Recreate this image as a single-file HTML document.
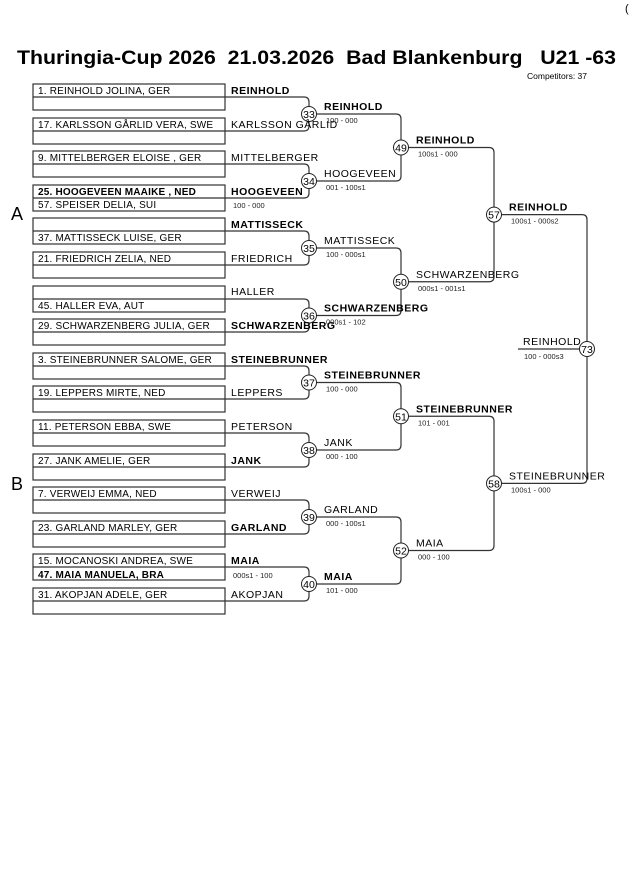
<!DOCTYPE html>
<html><head><meta charset="utf-8"><style>
body{margin:0;background:#fff;width:630px;height:891px;overflow:hidden}
svg{display:block}
text{font-family:"Liberation Sans",Arial,sans-serif;fill:#000}
.n{font-size:10px;letter-spacing:0.2px}
.nb{font-size:10px;font-weight:bold;letter-spacing:0.2px}
.l{font-size:10.5px;letter-spacing:0.5px}
.lb{font-size:10.5px;font-weight:bold;letter-spacing:0.5px}
.s{font-size:7.5px;fill:#222}
.c{font-size:10.5px;text-anchor:middle}
</style></head><body>
<svg width="630" height="891" viewBox="0 0 630 891" xmlns="http://www.w3.org/2000/svg">
<text x="625" y="12" style="font-size:11px">(</text>
<text x="17" y="64" textLength="599" lengthAdjust="spacingAndGlyphs" style="font-size:19.5px;font-weight:bold;white-space:pre" xml:space="preserve">Thuringia-Cup 2026  21.03.2026  Bad Blankenburg   U21 -63</text>
<text x="527" y="79" style="font-size:8.5px">Competitors: 37</text>
<text x="11" y="220" style="font-size:18px">A</text>
<text x="11" y="490" style="font-size:18px">B</text>

<g fill="none" stroke="#333" stroke-width="1.2">
<rect x="33" y="84" width="192" height="26"/><line x1="33" y1="97" x2="225" y2="97"/>
<rect x="33" y="118" width="192" height="26"/><line x1="33" y1="131" x2="225" y2="131"/>
<rect x="33" y="151" width="192" height="26"/><line x1="33" y1="164" x2="225" y2="164"/>
<rect x="33" y="185" width="192" height="26"/><line x1="33" y1="198" x2="225" y2="198"/>
<rect x="33" y="218" width="192" height="26"/><line x1="33" y1="231" x2="225" y2="231"/>
<rect x="33" y="252" width="192" height="26"/><line x1="33" y1="265" x2="225" y2="265"/>
<rect x="33" y="286" width="192" height="26"/><line x1="33" y1="299" x2="225" y2="299"/>
<rect x="33" y="319" width="192" height="26"/><line x1="33" y1="332" x2="225" y2="332"/>
<rect x="33" y="353" width="192" height="26"/><line x1="33" y1="366" x2="225" y2="366"/>
<rect x="33" y="386" width="192" height="26"/><line x1="33" y1="399" x2="225" y2="399"/>
<rect x="33" y="420" width="192" height="26"/><line x1="33" y1="433" x2="225" y2="433"/>
<rect x="33" y="454" width="192" height="26"/><line x1="33" y1="467" x2="225" y2="467"/>
<rect x="33" y="487" width="192" height="26"/><line x1="33" y1="500" x2="225" y2="500"/>
<rect x="33" y="521" width="192" height="26"/><line x1="33" y1="534" x2="225" y2="534"/>
<rect x="33" y="554" width="192" height="26"/><line x1="33" y1="567" x2="225" y2="567"/>
<rect x="33" y="588" width="192" height="26"/><line x1="33" y1="601" x2="225" y2="601"/>
<path d="M225 97H304Q309 97 309 102V126Q309 131 304 131H225"/>
<path d="M225 164H304Q309 164 309 169V193Q309 198 304 198H225"/>
<path d="M225 231H304Q309 231 309 236V260Q309 265 304 265H225"/>
<path d="M225 299H304Q309 299 309 304V327Q309 332 304 332H225"/>
<path d="M225 366H304Q309 366 309 371V394Q309 399 304 399H225"/>
<path d="M225 433H304Q309 433 309 438V462Q309 467 304 467H225"/>
<path d="M225 500H304Q309 500 309 505V529Q309 534 304 534H225"/>
<path d="M225 567H304Q309 567 309 572V596Q309 601 304 601H225"/>
<path d="M309 114H396Q401 114 401 119V176Q401 181 396 181H309"/>
<path d="M309 248H396Q401 248 401 253V310.5Q401 315.5 396 315.5H309"/>
<path d="M309 382.5H396Q401 382.5 401 387.5V445Q401 450 396 450H309"/>
<path d="M309 517H396Q401 517 401 522V579Q401 584 396 584H309"/>
<path d="M401 147.5H489Q494 147.5 494 152.5V276.75Q494 281.75 489 281.75H401"/>
<path d="M401 416.25H489Q494 416.25 494 421.25V545.5Q494 550.5 489 550.5H401"/>
<path d="M494 214.6H582Q587 214.6 587 219.6V478.4Q587 483.4 582 483.4H494"/>
<line x1="518" y1="349" x2="587" y2="349"/>
</g>

<g fill="#fff" stroke="#222" stroke-width="1">
<circle cx="309" cy="114" r="7.5"/><circle cx="309" cy="181" r="7.5"/><circle cx="309" cy="248" r="7.5"/><circle cx="309" cy="315.5" r="7.5"/>
<circle cx="309" cy="382.5" r="7.5"/><circle cx="309" cy="450" r="7.5"/><circle cx="309" cy="517" r="7.5"/><circle cx="309" cy="584" r="7.5"/>
<circle cx="401" cy="147.5" r="7.5"/><circle cx="401" cy="281.75" r="7.5"/><circle cx="401" cy="416.25" r="7.5"/><circle cx="401" cy="550.5" r="7.5"/>
<circle cx="494" cy="214.6" r="7.5"/><circle cx="494" cy="483.4" r="7.5"/>
<circle cx="587" cy="349" r="7.5"/>
</g>
<g>
<text x="309" y="118" class="c">33</text><text x="309" y="185" class="c">34</text><text x="309" y="252" class="c">35</text><text x="309" y="319.5" class="c">36</text>
<text x="309" y="386.5" class="c">37</text><text x="309" y="454" class="c">38</text><text x="309" y="521" class="c">39</text><text x="309" y="588" class="c">40</text>
<text x="401" y="151.5" class="c">49</text><text x="401" y="285.75" class="c">50</text><text x="401" y="420.25" class="c">51</text><text x="401" y="554.5" class="c">52</text>
<text x="494" y="218.6" class="c">57</text><text x="494" y="487.4" class="c">58</text>
<text x="587" y="353" class="c">73</text>
</g>

<text x="38" y="94" class="n">1. REINHOLD JOLINA, GER</text>
<text x="38" y="128" class="n">17. KARLSSON GÅRLID VERA, SWE</text>
<text x="38" y="161" class="n">9. MITTELBERGER ELOISE , GER</text>
<text x="38" y="195" class="nb">25. HOOGEVEEN MAAIKE , NED</text>
<text x="38" y="208" class="n">57. SPEISER DELIA, SUI</text>
<text x="38" y="241" class="n">37. MATTISSECK LUISE, GER</text>
<text x="38" y="262" class="n">21. FRIEDRICH ZELIA, NED</text>
<text x="38" y="309" class="n">45. HALLER EVA, AUT</text>
<text x="38" y="329" class="n">29. SCHWARZENBERG JULIA, GER</text>
<text x="38" y="363" class="n">3. STEINEBRUNNER SALOME, GER</text>
<text x="38" y="396" class="n">19. LEPPERS MIRTE, NED</text>
<text x="38" y="430" class="n">11. PETERSON EBBA, SWE</text>
<text x="38" y="464" class="n">27. JANK AMELIE, GER</text>
<text x="38" y="497" class="n">7. VERWEIJ EMMA, NED</text>
<text x="38" y="531" class="n">23. GARLAND MARLEY, GER</text>
<text x="38" y="564" class="n">15. MOCANOSKI ANDREA, SWE</text>
<text x="38" y="578" class="nb">47. MAIA MANUELA, BRA</text>
<text x="38" y="598" class="n">31. AKOPJAN ADELE, GER</text>

<text x="231" y="94" class="lb">REINHOLD</text>
<text x="231" y="128" class="l">KARLSSON GÅRLID</text>
<text x="231" y="161" class="l">MITTELBERGER</text>
<text x="231" y="195" class="lb">HOOGEVEEN</text>
<text x="233" y="208" class="s">100 - 000</text>
<text x="231" y="228" class="lb">MATTISSECK</text>
<text x="231" y="262" class="l">FRIEDRICH</text>
<text x="231" y="295" class="l">HALLER</text>
<text x="231" y="329" class="lb">SCHWARZENBERG</text>
<text x="231" y="363" class="lb">STEINEBRUNNER</text>
<text x="231" y="396" class="l">LEPPERS</text>
<text x="231" y="430" class="l">PETERSON</text>
<text x="231" y="464" class="lb">JANK</text>
<text x="231" y="497" class="l">VERWEIJ</text>
<text x="231" y="531" class="lb">GARLAND</text>
<text x="231" y="564" class="lb">MAIA</text>
<text x="233" y="578" class="s">000s1 - 100</text>
<text x="231" y="598" class="l">AKOPJAN</text>

<text x="324" y="110" class="lb">REINHOLD</text><text x="326" y="123" class="s">100 - 000</text>
<text x="324" y="177" class="l">HOOGEVEEN</text><text x="326" y="190" class="s">001 - 100s1</text>
<text x="324" y="244" class="l">MATTISSECK</text><text x="326" y="257" class="s">100 - 000s1</text>
<text x="324" y="311.5" class="lb">SCHWARZENBERG</text><text x="326" y="324.5" class="s">000s1 - 102</text>
<text x="324" y="378.5" class="lb">STEINEBRUNNER</text><text x="326" y="391.5" class="s">100 - 000</text>
<text x="324" y="446" class="l">JANK</text><text x="326" y="459" class="s">000 - 100</text>
<text x="324" y="513" class="l">GARLAND</text><text x="326" y="526" class="s">000 - 100s1</text>
<text x="324" y="580" class="lb">MAIA</text><text x="326" y="593" class="s">101 - 000</text>

<text x="416" y="143.5" class="lb">REINHOLD</text><text x="418" y="156.5" class="s">100s1 - 000</text>
<text x="416" y="277.75" class="l">SCHWARZENBERG</text><text x="418" y="290.75" class="s">000s1 - 001s1</text>
<text x="416" y="412.25" class="lb">STEINEBRUNNER</text><text x="418" y="425.25" class="s">101 - 001</text>
<text x="416" y="546.5" class="l">MAIA</text><text x="418" y="559.5" class="s">000 - 100</text>

<text x="509" y="210.6" class="lb">REINHOLD</text><text x="511" y="223.6" class="s">100s1 - 000s2</text>
<text x="509" y="479.4" class="l">STEINEBRUNNER</text><text x="511" y="492.4" class="s">100s1 - 000</text>

<text x="523" y="345" class="l">REINHOLD</text><text x="524" y="359" class="s">100 - 000s3</text>
</svg>
</body></html>
